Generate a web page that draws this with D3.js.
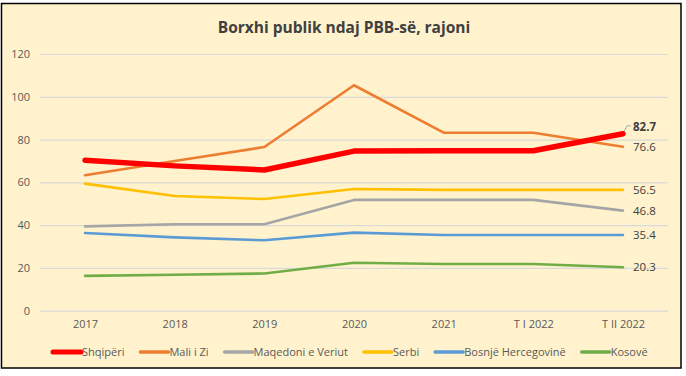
<!DOCTYPE html>
<html>
<head>
<meta charset="utf-8">
<script src="https://cdn.jsdelivr.net/npm/d3@7"></script>
<style>
  body { margin: 0; background: #fff; }
  svg text { font-family: "Open Sans", sans-serif; }
</style>
</head>
<body>
<div id="chart"></div>
<script>
// Data
const categories = ["2017", "2018", "2019", "2020", "2021", "T I 2022", "T II 2022"];
const shqiperi = [70.3, 67.7, 65.8, 74.6, 74.8, 74.8, 82.7];
const maliZi = [63.3, 70.0, 76.5, 105.4, 83.2, 83.2, 76.6];
const maqedoni = [39.4, 40.4, 40.4, 51.8, 51.8, 51.8, 46.8];
const serbi = [59.4, 53.6, 52.2, 56.9, 56.5, 56.5, 56.5];
const bosnje = [36.3, 34.3, 32.9, 36.5, 35.4, 35.4, 35.4];
const kosove = [16.3, 16.8, 17.4, 22.4, 21.8, 21.8, 20.3];
const yTicks = [0, 20, 40, 60, 80, 100, 120];

const series = [
  { name: "Shqipëri", values: shqiperi, color: "#FF0000", width: 5.5, bold: true },
  { name: "Mali i Zi", values: maliZi, color: "#ED7D31", width: 2.6 },
  { name: "Maqedoni e Veriut", values: maqedoni, color: "#A5A5A5", width: 2.6 },
  { name: "Serbi", values: serbi, color: "#FFC000", width: 2.6 },
  { name: "Bosnjë Hercegovinë", values: bosnje, color: "#5B9BD5", width: 2.6 },
  { name: "Kosovë", values: kosove, color: "#70AD47", width: 2.6 }
];

const svg = d3.select("#chart")
  .append("svg")
    .attr("width", 686)
    .attr("height", 376);

// frame
svg.append("rect")
  .attr("x", 1.5).attr("y", 3.5)
  .attr("width", 679.5).attr("height", 364.5)
  .attr("fill", "#FFF2CC")
  .attr("stroke", "#000").attr("stroke-width", 1.5);

svg.append("text")
  .attr("x", 344).attr("y", 33)
  .attr("text-anchor", "middle")
  .attr("font-size", 15.5).attr("font-weight", "bold")
  .attr("fill", "#404040")
  .text("Borxhi publik ndaj PBB-së, rajoni");

const x = d3.scalePoint()
  .domain(categories)
  .range([85, 623]);

const y = d3.scaleLinear()
  .domain([0, 120])
  .range([310.7, 54]);

// gridlines + y labels
const yAxis = svg.append("g")
  .attr("transform", "translate(40,0)")
  .call(d3.axisLeft(y).tickValues(yTicks).tickSize(-628).tickPadding(10));
yAxis.select(".domain").remove();
yAxis.selectAll("line").attr("stroke", "#D9D9D9").attr("stroke-width", 1.2);
yAxis.selectAll("text").attr("fill", "#595959").attr("font-size", 11);

// x labels
const xAxis = svg.append("g")
  .attr("transform", "translate(0,310.7)")
  .call(d3.axisBottom(x).tickSize(0).tickPadding(10));
xAxis.select(".domain").remove();
xAxis.selectAll("text").attr("fill", "#595959").attr("font-size", 11);

const line = d3.line()
  .x((d, i) => x(categories[i]))
  .y(d => y(d));

// draw back to front so red sits on top
series.slice().reverse().forEach(s => {
  svg.append("path")
    .datum(s.values)
    .attr("d", line)
    .attr("fill", "none")
    .attr("stroke", s.color)
    .attr("stroke-width", s.width)
    .attr("stroke-linecap", "round")
    .attr("stroke-linejoin", "round");
});

// end labels
const lastCat = categories[categories.length - 1];
series.forEach(s => {
  const v = s.values[s.values.length - 1];
  const lx = x(lastCat);
  const ty = s.bold ? y(v) - 7 : y(v);
  if (s.bold) {
    svg.append("path")
      .attr("d", `M${lx + 1},${y(v) - 2} L${lx + 4},${ty - 1} L${lx + 8},${ty - 1}`)
      .attr("fill", "none")
      .attr("stroke", "#7F9F9F")
      .attr("stroke-width", 0.8);
  }
  svg.append("text")
    .attr("x", lx + 10)
    .attr("y", ty)
    .attr("dy", "0.35em")
    .attr("font-size", 11.5)
    .attr("font-weight", s.bold ? "bold" : "normal")
    .attr("fill", "#404040")
    .text(v.toFixed(1));
});

// legend
let cursor = 52;
series.forEach(s => {
  const g = svg.append("g").attr("transform", `translate(${cursor},352)`);
  g.append("line")
    .attr("x1", 1).attr("x2", 29)
    .attr("stroke", s.color)
    .attr("stroke-width", s.bold ? 5 : 3.5)
    .attr("stroke-linecap", "round");
  const t = g.append("text")
    .attr("x", 30).attr("dy", "0.35em")
    .attr("font-size", 11)
    .attr("fill", "#595959")
    .text(s.name);
  cursor += 30 + t.node().getComputedTextLength() + 15;
});
</script>
</body>
</html>
